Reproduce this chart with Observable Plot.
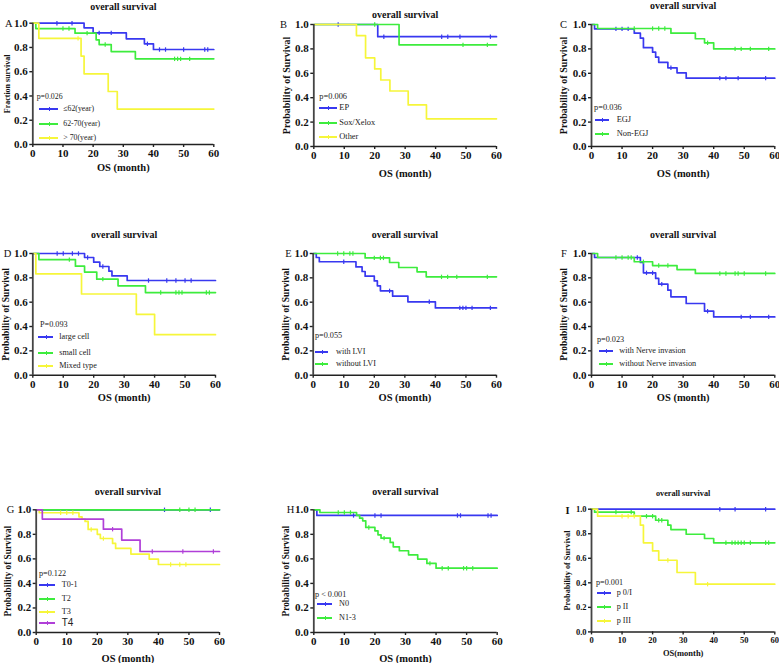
<!DOCTYPE html>
<html><head><meta charset="utf-8">
<script src="https://cdn.jsdelivr.net/npm/d3@7"></script>
<script src="https://cdn.jsdelivr.net/npm/@observablehq/plot@0.6"></script>
<style>
html,body{margin:0;padding:0;background:#fff;}
body{width:779px;height:663px;position:relative;overflow:hidden;font-family:"Liberation Serif","Times New Roman",serif;color:#111;}
.lg{position:absolute;white-space:nowrap;line-height:1;transform:translateY(-50%);font-weight:normal;color:#222;}
.sw{position:absolute;height:2px;}
.st{position:absolute;width:1px;height:4px;}
</style></head><body>
<script>
// ---------- shared ticks ----------
const X_TICKS = [0, 10, 20, 30, 40, 50, 60];
const Y_TICKS = [0, 0.2, 0.4, 0.6, 0.8, 1.0];
const TITLE = "overall survival";
const BLUE = "#3838f0", GREEN = "#3dec3d", YELLOW = "#f6f63a", PURPLE = "#b03fd8";

// ---------- A: age ----------
const A_le62_t = [0, 17, 20, 31, 37, 40, 60];
const A_le62_s = [1, 0.962, 0.92, 0.871, 0.83, 0.783, 0.783];
const A_le62_c = [8, 13, 22, 26, 38, 42, 44, 50, 57, 58];
const A_6270_t = [0, 1, 14, 21, 22, 26, 34, 60];
const A_6270_s = [1, 0.956, 0.918, 0.863, 0.824, 0.766, 0.706, 0.706];
const A_6270_c = [10, 12, 18, 24, 47, 48, 49, 52];
const A_gt70_t = [0, 2, 16, 17, 25, 28, 60];
const A_gt70_s = [1, 0.875, 0.729, 0.583, 0.437, 0.292, 0.292];
const A_gt70_c = [15];
// ---------- B: chemo ----------
const B_ep_t = [0, 21, 60];
const B_ep_s = [1, 0.9, 0.9];
const B_ep_c = [8, 23, 42, 44, 48, 58];
const B_sox_t = [0, 28, 60];
const B_sox_s = [1, 0.833, 0.833];
const B_sox_c = [20, 49, 57];
const B_oth_t = [0, 14, 17, 20, 22, 25, 31, 37, 60];
const B_oth_s = [1, 0.909, 0.727, 0.636, 0.545, 0.455, 0.341, 0.227, 0.227];
const B_oth_c = [];
// ---------- C: location ----------
const C_egj_t = [0, 1, 14, 16, 17, 20, 21, 22, 25, 28, 31, 60];
const C_egj_s = [1, 0.964, 0.929, 0.888, 0.81, 0.773, 0.732, 0.69, 0.645, 0.604, 0.56, 0.56];
const C_egj_c = [8, 10, 12, 26, 42, 44, 48, 57];
const C_non_t = [0, 2, 26, 34, 37, 40, 60];
const C_non_s = [1, 0.967, 0.929, 0.883, 0.85, 0.80, 0.80];
const C_non_c = [14, 20, 22, 24, 38, 47, 49, 52, 58];
// ---------- D: cell type ----------
const D_large_t = [0, 17, 20, 22, 25, 26, 31, 60];
const D_large_s = [1, 0.967, 0.929, 0.893, 0.855, 0.816, 0.778, 0.778];
const D_large_c = [8, 10, 13, 15, 18, 23, 38, 44, 47, 50, 52];
const D_small_t = [0, 2, 14, 17, 21, 28, 37, 60];
const D_small_s = [1, 0.95, 0.896, 0.847, 0.789, 0.734, 0.679, 0.679];
const D_small_c = [12, 23, 42, 47, 48, 49, 57, 58];
const D_mixed_t = [0, 1, 16, 34, 40, 60];
const D_mixed_s = [1, 0.833, 0.667, 0.5, 0.333, 0.333];
const D_mixed_c = [];
// ---------- E: LVI ----------
const E_with_t = [0, 1, 2, 14, 16, 17, 20, 21, 22, 26, 31, 40, 60];
const E_with_s = [1, 0.967, 0.932, 0.89, 0.852, 0.814, 0.775, 0.734, 0.693, 0.649, 0.603, 0.553, 0.553];
const E_with_c = [10, 25, 38, 48, 49, 50, 52, 58];
const E_wo_t = [0, 17, 25, 28, 34, 37, 60];
const E_wo_s = [1, 0.964, 0.926, 0.885, 0.849, 0.808, 0.808];
const E_wo_c = [8, 10, 12, 13, 20, 22, 23, 42, 44, 47, 57];
// ---------- F: nerve invasion ----------
const F_with_t = [0, 1, 16, 17, 21, 22, 25, 26, 31, 37, 40, 60];
const F_with_s = [1, 0.967, 0.926, 0.841, 0.795, 0.748, 0.699, 0.644, 0.589, 0.526, 0.479, 0.479];
const F_with_c = [15, 18, 20, 23, 38, 49, 52, 58];
const F_wo_t = [0, 2, 14, 20, 28, 34, 60];
const F_wo_s = [1, 0.967, 0.932, 0.901, 0.868, 0.836, 0.836];
const F_wo_c = [8, 10, 12, 13, 17, 22, 25, 42, 44, 47, 48, 50, 57];
// ---------- G: T stage ----------
const G_t01_t = [0, 60];
const G_t01_s = [1, 1];
const G_t01_c = [42, 57];
const G_t2_t = [0, 60];
const G_t2_s = [1, 1];
const G_t2_c = [47, 50, 52];
const G_t3_t = [0, 1, 14, 15, 16, 17, 20, 21, 25, 26, 31, 37, 40, 60];
const G_t3_s = [1, 0.976, 0.943, 0.924, 0.905, 0.84, 0.80, 0.766, 0.726, 0.685, 0.639, 0.598, 0.554, 0.554];
const G_t3_c = [8, 10, 12, 18, 22, 44, 47, 49];
const G_t4_t = [0, 2, 22, 28, 34, 60];
const G_t4_s = [1, 0.924, 0.842, 0.753, 0.66, 0.66];
const G_t4_c = [25, 38, 48, 58];
// ---------- H: N stage ----------
const H_n0_t = [0, 1, 60];
const H_n0_s = [1, 0.954, 0.954];
const H_n0_c = [13, 20, 22, 47, 48, 57, 58];
const H_n13_t = [0, 2, 14, 15, 16, 17, 20, 21, 22, 25, 26, 28, 31, 34, 37, 40, 60];
const H_n13_s = [1, 0.978, 0.954, 0.932, 0.91, 0.856, 0.829, 0.796, 0.769, 0.734, 0.698, 0.666, 0.633, 0.598, 0.563, 0.524, 0.524];
const H_n13_c = [8, 10, 12, 18, 23, 38, 42, 44, 49, 50, 52];
// ---------- I: pathologic stage ----------
const I_p0_t = [0, 60];
const I_p0_s = [1, 1];
const I_p0_c = [42, 47, 57];
const I_p2_t = [0, 1, 14, 21, 25, 26, 31, 37, 40, 60];
const I_p2_s = [1, 0.976, 0.943, 0.91, 0.87, 0.834, 0.796, 0.761, 0.726, 0.726];
const I_p2_c = [8, 13, 18, 20, 22, 23, 44, 46, 47, 48, 49, 50, 52, 57, 58];
const I_p3_t = [0, 2, 16, 17, 20, 22, 28, 34, 60];
const I_p3_s = [1, 0.943, 0.87, 0.726, 0.66, 0.584, 0.484, 0.389, 0.389];
const I_p3_c = [10, 12, 14, 25, 38];

const S = (name, color, t, s, c, extra) => Object.assign({name, color, t, s, c}, extra || {});

// layout (pixel geometry of each panel)
const panels = [
 {letter:"A", fr:[32.3,213.3,22.7,144], titleY:6.7, xlabY:166.7, ylabX:6.7, letXY:[8.3,22.7], ylab:"Fraction survival", ylabSize:8,
  tick:11, titleSize:10, xlabSize:10.5, xlab:"OS (month)", p:["p=0.026",36.7,96.7], leg:[39,58,63.3,[109.3,124.3,138.3]], legSize:7.8,
  series:[S("≤62(year)",BLUE,A_le62_t,A_le62_s,A_le62_c), S("62-70(year)",GREEN,A_6270_t,A_6270_s,A_6270_c), S("> 70(year)",YELLOW,A_gt70_t,A_gt70_s,A_gt70_c)]},
 {letter:"B", fr:[313.3,496,24,146], titleY:14, xlabY:172.7, ylabX:286, letXY:[283,24], ylab:"Probability of Survival", ylabSize:10,
  tick:11, titleSize:10, xlabSize:10.5, xlab:"OS (month)", p:["p=0.006",319.3,96.7], leg:[319,337,339.3,[108.3,123.3,137.3]], legSize:8.4,
  series:[S("EP",BLUE,B_ep_t,B_ep_s,B_ep_c), S("Sox/Xelox",GREEN,B_sox_t,B_sox_s,B_sox_c), S("Other",YELLOW,B_oth_t,B_oth_s,B_oth_c)]},
 {letter:"C", fr:[590.7,774,24,146], titleY:5.3, xlabY:172.7, ylabX:562.7, letXY:[562.7,24], ylab:"Probability of Survival", ylabSize:10,
  tick:11, titleSize:10, xlabSize:10.5, xlab:"OS (month)", p:["p=0.036",594,107.7], leg:[595,609,616.7,[120,134.3]], legSize:8.4,
  series:[S("EGJ",BLUE,C_egj_t,C_egj_s,C_egj_c), S("Non-EGJ",GREEN,C_non_t,C_non_s,C_non_c)]},
 {letter:"D", fr:[32.3,215,253.3,375], titleY:234.3, xlabY:397, ylabX:5, letXY:[7,253.3], ylab:"Probability of Survival", ylabSize:9.5,
  tick:11, titleSize:10, xlabSize:10.5, xlab:"OS (month)", p:["P=0.093",40,325], leg:[38,53,59.3,[337.3,352.7,366]], legSize:8.2,
  series:[S("large cell",BLUE,D_large_t,D_large_s,D_large_c), S("small cell",GREEN,D_small_t,D_small_s,D_small_c), S("Mixed type",YELLOW,D_mixed_t,D_mixed_s,D_mixed_c)]},
 {letter:"E", fr:[312.7,496,253.3,375], titleY:234.3, xlabY:397, ylabX:285, letXY:[288,253.3], ylab:"Probability of Survival", ylabSize:9.5,
  tick:11, titleSize:10, xlabSize:10.5, xlab:"OS (month)", p:["p=0.055",315,335.7], leg:[315,328,336,[351.7,364.3]], legSize:8.2,
  series:[S("with LVI",BLUE,E_with_t,E_with_s,E_with_c), S("without LVI",GREEN,E_wo_t,E_wo_s,E_wo_c)]},
 {letter:"F", fr:[590.7,774,253.3,375], titleY:234.3, xlabY:397, ylabX:562.7, letXY:[563,253.3], ylab:"Probability of Survival", ylabSize:9.5,
  tick:11, titleSize:10, xlabSize:10.5, xlab:"OS (month)", p:["p=0.023",597,340], leg:[599,613,619.3,[350.7,364]], legSize:8.2,
  series:[S("with Nerve invasion",BLUE,F_with_t,F_with_s,F_with_c), S("without Nerve invasion",GREEN,F_wo_t,F_wo_s,F_wo_c)]},
 {letter:"G", fr:[35.7,219,509,631.7], titleY:490.7, xlabY:657.7, ylabX:7.3, letXY:[10,509], ylab:"Probability of Survival", ylabSize:9.3,
  tick:11, titleSize:10, xlabSize:10.5, xlab:"OS (month)", p:["p=0.122",39,574], leg:[39,55,61.7,[585,599.3,611.7,622.7]], legSize:8.2,
  series:[S("T0-1",BLUE,G_t01_t,G_t01_s,G_t01_c), S("T2",GREEN,G_t2_t,G_t2_s,G_t2_c), S("T3",YELLOW,G_t3_t,G_t3_s,G_t3_c), S("T4",PURPLE,G_t4_t,G_t4_s,G_t4_c,{sans:true})]},
 {letter:"H", fr:[313.3,496.7,509,631.7], titleY:490.7, xlabY:657.7, ylabX:286, letXY:[290,509], ylab:"Probability of Survival", ylabSize:9.3,
  tick:11, titleSize:10, xlabSize:10.5, xlab:"OS (month)", p:["p < 0.001",315,595], leg:[317,332,339,[604.3,618.3]], legSize:8.2,
  series:[S("N0",BLUE,H_n0_t,H_n0_s,H_n0_c), S("N1-3",GREEN,H_n13_t,H_n13_s,H_n13_c)]},
 {letter:"I", fr:[590.7,774,509,631.7], titleY:493.3, xlabY:653.3, ylabX:566.7, letXY:[566.7,510], ylab:"Probability of Survival", ylabSize:8.2,
  tick:8.5, titleSize:8.2, xlabSize:8.5, xlab:"OS(month)", p:["p=0.001",596,583.3], leg:[597,611,616.7,[593.3,607.3,620.7]], legSize:8.2,
  series:[S("p 0/I",BLUE,I_p0_t,I_p0_s,I_p0_c), S("p II",GREEN,I_p2_t,I_p2_s,I_p2_c), S("p III",YELLOW,I_p3_t,I_p3_s,I_p3_c)]}
];

function stepAt(t, s, x) { let v = s[0]; for (let i = 0; i < t.length; i++) if (t[i] <= x) v = s[i]; return v; }
const censorSymbol = { draw(ctx) { ctx.moveTo(0, -2.2); ctx.lineTo(0, 2.2); } };
const SERIF = "'Liberation Serif','Times New Roman',serif";

for (const P of panels) {
  const [x0, x1, y1, y0] = P.fr;
  const left = Math.max(0, Math.min(P.ylabX, P.letXY[0]) - 8);
  const top = Math.max(0, P.titleY - 8);
  const right = Math.min(779, x1 + 12);
  const bottom = Math.min(663, P.xlabY + 8);
  const W = right - left, H = bottom - top;
  const marks = [];
  // draw in legend order: later series sit on top
  for (const se of P.series) {
    marks.push(Plot.line(d3.zip(se.t, se.s), {x: d => d[0], y: d => d[1], curve: "step-after", stroke: se.color, strokeWidth: 1.7}));
    marks.push(Plot.dot(se.c, {x: d => d, y: d => stepAt(se.t, se.s, d), symbol: censorSymbol, r: 2, stroke: se.color, fill: "none", strokeWidth: 1.2}));
  }
  marks.push(
    Plot.ruleX([0], {stroke: "#444", strokeWidth: 1.8}),
    Plot.ruleY([0], {stroke: "#222", strokeWidth: 1.5}),
    Plot.axisX({ticks: X_TICKS, tickSize: 3, tickPadding: 2, label: null, stroke: "#222", strokeWidth: 1.4, fontSize: P.tick, fontWeight: "bold"}),
    Plot.axisY({ticks: Y_TICKS, tickFormat: d3.format(".1f"), tickSize: 3, tickPadding: 2, label: null, stroke: "#222", strokeWidth: 1.4, fontSize: P.tick, fontWeight: "bold"}),
    Plot.text([TITLE], {text: d => d, frameAnchor: "top", dy: P.titleY - y1, lineAnchor: "middle", fontSize: P.titleSize, fontWeight: "bold"}),
    Plot.text([P.xlab], {text: d => d, frameAnchor: "bottom", dy: P.xlabY - y0, lineAnchor: "middle", fontSize: P.xlabSize, fontWeight: "bold"}),
    Plot.text([P.ylab], {text: d => d, frameAnchor: "left", dx: P.ylabX - x0, rotate: -90, textAnchor: "middle", lineAnchor: "middle", fontSize: P.ylabSize, fontWeight: "bold"}),
    Plot.text([P.letter], {text: d => d, frameAnchor: "top-left", dx: P.letXY[0] - x0, dy: P.letXY[1] - y1, textAnchor: "middle", lineAnchor: "middle", fontSize: 10.5, fontWeight: P.letter === "I" ? "bold" : "normal"})
  );
  const svg = Plot.plot({
    width: W, height: H,
    marginLeft: x0 - left, marginRight: right - x1, marginTop: y1 - top, marginBottom: bottom - y0,
    x: {domain: [0, 60]}, y: {domain: [0, 1]},
    style: `position:absolute;left:${left}px;top:${top}px;overflow:visible;font-family:${SERIF};font-size:${P.tick}px;color:#111;background:none;max-width:none;`,
    marks
  });
  document.body.appendChild(svg);

  // legend (HTML overlay)
  const pdiv = document.createElement("div");
  pdiv.className = "lg"; pdiv.textContent = P.p[0];
  pdiv.style.cssText += `left:${P.p[1]}px;top:${P.p[2]}px;font-size:${P.legSize}px;`;
  document.body.appendChild(pdiv);
  const [lx1, lx2, tx, ys] = P.leg;
  P.series.forEach((se, i) => {
    const y = Math.round(ys[i]);
    const sw = document.createElement("div");
    sw.className = "sw";
    sw.style.cssText += `left:${Math.round(lx1)}px;top:${y - 1}px;width:${Math.round(lx2 - lx1)}px;background:${se.color};`;
    const st = document.createElement("div");
    st.className = "st";
    st.style.cssText += `left:${Math.round((lx1 + lx2) / 2)}px;top:${y - 2}px;background:${se.color};`;
    const tl = document.createElement("div");
    tl.className = "lg"; tl.textContent = se.name;
    tl.style.cssText += `left:${tx}px;top:${ys[i]}px;font-size:${se.sans ? 10 : P.legSize}px;` + (se.sans ? "font-family:'Liberation Sans',Arial,sans-serif;" : "");
    document.body.append(sw, st, tl);
  });
}
</script>
</body></html>
